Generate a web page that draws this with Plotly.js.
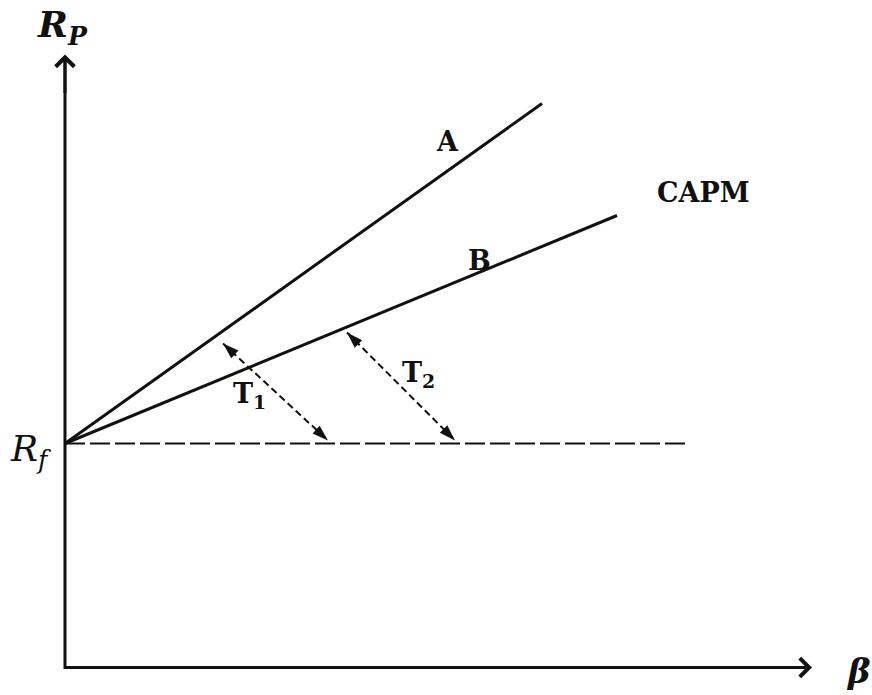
<!DOCTYPE html>
<html>
<head>
<meta charset="utf-8">
<script src="https://cdn.plot.ly/plotly-3.0.1.min.js"></script>
<style>html,body{margin:0;padding:0;background:#fff}</style>
</head>
<body>
<div id="chart" style="width:872px;height:695px"></div>
<script>
// Risk-free rate and the two security market lines (beta on x, return on y)
const riskFree = 2.24;
const lineA_beta = [0, 4.77];
const lineA_ret = [2.24, 5.64];
const lineB_beta = [0, 5.52];
const lineB_ret = [2.24, 4.52];
const rfLine_beta = [0, 6.2];
const rfLine_ret = [2.24, 2.24];

// Gaps T1 and T2 (double-headed dashed arrows)
const t1_beta = [1.58, 2.63];
const t1_ret = [3.24, 2.27];
const t2_beta = [2.82, 3.90];
const t2_ret = [3.35, 2.27];

// Axis extents
const axisBetaMax = 7.47;
const axisRetMax = 6.13;

// Text labels
const labelText = ['A', 'CAPM', 'B', 'T<sub>1</sub>', 'T<sub>2</sub>'];
const labelBeta = [3.82, 6.38, 4.14, 1.84, 3.53];
const labelRet = [5.26, 4.75, 4.07, 2.72, 2.93];

const ink = '#111';

// Marker angle (degrees clockwise from up) pointing from point a to point b
function headAngle(xa, ya, xb, yb) {
  return Math.atan2(xb - xa, yb - ya) * 180 / Math.PI;
}

function gapArrow(xs, ys) {
  return {
    x: xs, y: ys, type: 'scatter', mode: 'lines+markers',
    line: {color: ink, width: 2, dash: '7px,4px'},
    marker: {
      symbol: 'arrow', size: 17, color: ink, angleref: 'up',
      angle: [headAngle(xs[1], ys[1], xs[0], ys[0]), headAngle(xs[0], ys[0], xs[1], ys[1])]
    },
    hoverinfo: 'skip'
  };
}

const traces = [
  {x: [0, 0, axisBetaMax - 0.05], y: [axisRetMax - 0.05, 0, 0], type: 'scatter', mode: 'lines',
   line: {color: ink, width: 3}, hoverinfo: 'skip'},
  {x: rfLine_beta, y: rfLine_ret, type: 'scatter', mode: 'lines',
   line: {color: ink, width: 2, dash: '20px,5px'}, hoverinfo: 'skip'},
  {x: lineA_beta, y: lineA_ret, type: 'scatter', mode: 'lines',
   line: {color: ink, width: 3}, hoverinfo: 'skip'},
  {x: lineB_beta, y: lineB_ret, type: 'scatter', mode: 'lines',
   line: {color: ink, width: 3}, hoverinfo: 'skip'},
  gapArrow(t1_beta, t1_ret),
  gapArrow(t2_beta, t2_ret)
];

const labelFont = {family: 'DejaVu Serif', size: 27, color: ink, weight: 'bold'};

const annotations = [
  // axis arrowheads
  {x: 0, y: axisRetMax, ax: 0, ay: axisRetMax - 0.4, xref: 'x', yref: 'y', axref: 'x', ayref: 'y',
   text: '', showarrow: true, arrowhead: 4, arrowsize: 1.2, arrowwidth: 3, arrowcolor: ink},
  {x: axisBetaMax, y: 0, ax: axisBetaMax - 0.4, ay: 0, xref: 'x', yref: 'y', axref: 'x', ayref: 'y',
   text: '', showarrow: true, arrowhead: 4, arrowsize: 1.2, arrowwidth: 3, arrowcolor: ink},
  // axis names
  {x: -0.03, y: 6.41, xref: 'x', yref: 'y', showarrow: false, xanchor: 'center', yanchor: 'middle',
   text: '<b><i>R<sub>P</sub></i></b>', font: {family: 'DejaVu Serif', size: 36, color: ink}},
  {x: -0.11, y: 2.16, xref: 'x', yref: 'y', showarrow: false, xanchor: 'right', yanchor: 'middle',
   text: '<i>R<sub>f</sub></i>', font: {family: 'DejaVu Serif', size: 36, color: ink}},
  {x: 7.93, y: -0.03, xref: 'x', yref: 'y', showarrow: false, xanchor: 'center', yanchor: 'middle',
   text: '<b><i>β</i></b>', font: {family: 'DejaVu Serif', size: 34, color: ink}}
];

for (let i = 0; i < labelText.length; i++) {
  annotations.push({
    x: labelBeta[i], y: labelRet[i], xref: 'x', yref: 'y', showarrow: false,
    xanchor: 'center', yanchor: 'middle', text: labelText[i], font: labelFont
  });
}

const layout = {
  width: 872, height: 695,
  margin: {l: 0, r: 0, t: 0, b: 0},
  paper_bgcolor: '#fff', plot_bgcolor: '#fff',
  showlegend: false, hovermode: false,
  xaxis: {range: [-0.65, 8.07], visible: false, fixedrange: true},
  yaxis: {range: [-0.275, 6.675], visible: false, fixedrange: true},
  annotations: annotations
};

Plotly.newPlot('chart', traces, layout, {staticPlot: true, displayModeBar: false});
</script>
</body>
</html>
